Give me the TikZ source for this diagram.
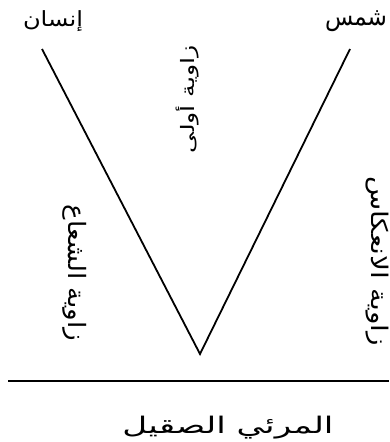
\documentclass[tikz,border=0pt]{standalone}
\usepackage{fontspec}
\usepackage{graphicx}
\usepackage{xcolor}
\usepackage{tikz}
\usetikzlibrary{positioning}
\TeXXeTstate=1
\newfontfamily\arabicfont[Script=Arabic]{DejaVu Sans}
\definecolor{inkcolor}{RGB}{0,0,0}
\tikzset{
  arlabel/.style={
    inner sep=0pt, text=inkcolor,
    font=\arabicfont\fontsize{24}{28}\selectfont
  },
  rayline/.style={
    draw=inkcolor, line width=1.8pt, line join=miter
  },
  mirrorline/.style={
    draw=inkcolor, line width=2.4pt
  }
}
\begin{document}
\begin{tikzpicture}[x=1pt, y=-1pt]
    \useasboundingbox (0,0) rectangle (389,442);

    % corners of the V and ends of the mirror
    \coordinate (mantop) at (42,49);
    \coordinate (suntop) at (350,49);
    \coordinate (apex) at (200,354);
    \coordinate (mirleft) at (8,381);
    \coordinate (mirright) at (389,381);

    \node[arlabel] (man) at (53,21) {\resizebox*{60pt}{21pt}{\beginR إنسان\endR}};
    \node[arlabel] (sun) at (356,21) {\resizebox*{62pt}{21pt}{\beginR شمس\endR}};

    \node[arlabel, rotate=90] (firstangle) at (188,99) {\resizebox*{108pt}{23pt}{\beginR زاوية أولى\endR}};
    \node[arlabel, rotate=-90] (rayangle) at (75,273) {\resizebox*{137pt}{24pt}{\beginR زاوية الشعاع\endR}};
    \node[arlabel, rotate=-90] (reflangle) at (377,261) {\resizebox*{170pt}{23pt}{\beginR زاوية الانعكاس\endR}};

    \node[arlabel] (mirror) at (228,428) {\resizebox*{211pt}{23pt}{\beginR المرئي الصقيل\endR}};

    \draw[rayline] (mantop) -- (apex) -- (suntop);
    \draw[mirrorline] (mirleft) -- (mirright);

  \end{tikzpicture}
\end{document}
